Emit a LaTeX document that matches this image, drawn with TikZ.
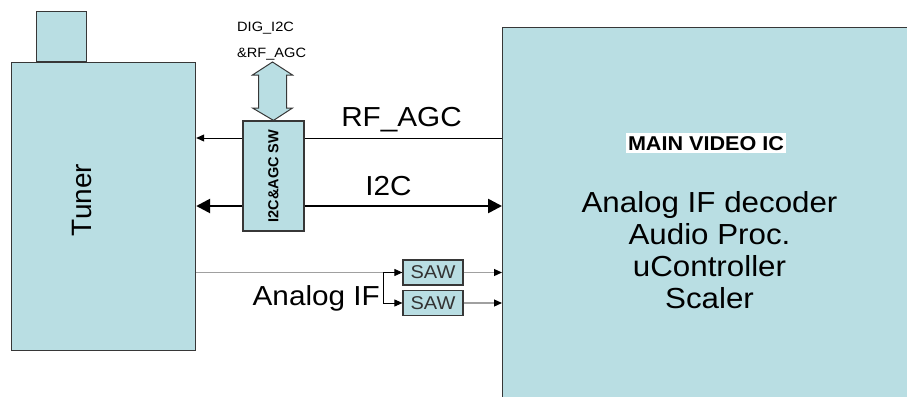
\documentclass[tikz,border=0pt]{standalone}
\usepackage{fontspec}
\setmainfont[FakeStretch=1.08]{Liberation Sans}
\newfontfamily\upfont{Liberation Sans}
\usetikzlibrary{positioning,arrows.meta}
\definecolor{boxblue}{RGB}{185,222,227}
\definecolor{edgegray}{RGB}{55,55,55}
\definecolor{ifgray}{RGB}{160,160,160}

\tikzset{
  blk/.style={draw=edgegray, fill=boxblue, line width=1.2pt, inner sep=0pt},
  sawbox/.style={blk, minimum width=60pt, minimum height=25pt, text=black!80,
    font=\fontsize{18.5}{20}\selectfont},
  biglbl/.style={font=\fontsize{27.5}{30}\selectfont, inner sep=0pt},
  smalllbl/.style={font=\fontsize{13.5}{15}\selectfont, inner sep=0pt, anchor=base west},
  ifline/.style={draw=ifgray, line width=1.2pt},
  iftip/.style={-{Triangle[length=8pt,width=7pt,color=black]}}
}

\begin{document}
\begin{tikzpicture}[x=1pt, y=-1pt]
\useasboundingbox (0,0) rectangle (907,396);
\clip (0,0) rectangle (907,396);

% blocks
\node[blk, minimum width=50pt, minimum height=50pt, anchor=south west] (ant) at (36,62) {};
\node[blk, minimum width=184pt, minimum height=288pt, anchor=north west] (tuner) at (11,62) {};
\node[blk, minimum width=61pt, minimum height=110pt] (sw) at (273.5,176) {};
\node[blk, minimum width=420pt, minimum height=384pt, anchor=north west] (ic) at (502,27) {};
\node[sawbox] (saw1) at (433,272.5) {SAW};
\node[sawbox] (saw2) at (433,303) {SAW};

% texts
\node[rotate=90, inner sep=0pt, font=\upfont\fontsize{28}{30}\selectfont] (tunerlbl) at (82.5,200) {Tuner};
\node[rotate=90, inner sep=0pt, font=\upfont\bfseries\fontsize{14.5}{16}\selectfont] (swlbl) at (sw.center) {I2C\&AGC SW};
\node[fill=white, inner xsep=2pt, inner ysep=3pt, anchor=base, font=\bfseries\fontsize{20}{22}\selectfont] (icname) at (706,150) {MAIN VIDEO IC};
\node[align=center, inner sep=0pt, font=\fontsize{29}{32}\selectfont] (icfunc) at (709.5,250) {Analog IF decoder\\Audio Proc.\\uController\\Scaler};
\node[smalllbl] (diglbl) at (237,32) {DIG\_I2C};
\node[smalllbl] (rfdiglbl) at (237,57) {\&RF\_AGC};
\node[biglbl, anchor=base] (rflbl) at (401.5,126) {RF\_AGC};
\node[biglbl, anchor=base] (i2clbl) at (388.5,195) {I2C};
\node[biglbl, anchor=base east] (iflbl) at (380,305) {Analog IF};

% fat double arrow onto the switch
\draw[draw=edgegray, fill=boxblue, line width=1pt, line join=miter]
  (272.5,62) -- (292.5,75) -- (286.5,75) -- (286.5,108) -- (292.5,108) -- (sw.north)
  -- (252.5,108) -- (258.5,108) -- (258.5,75) -- (252.5,75) -- cycle;

% RF_AGC
\coordinate (rf) at (0,138);
\draw[line width=0.9pt] (rf -| ic.west) -- (rf -| sw.east);
\draw[line width=0.9pt, -{Triangle[length=8pt,width=7pt]}] (rf -| sw.west) -- (rf -| tuner.east);

% I2C
\coordinate (i2c) at (0,206);
\draw[line width=2.6pt, -{Triangle[length=14pt,width=14pt]}] (i2c -| sw.east) -- (i2c -| ic.west);
\draw[line width=2.6pt, -{Triangle[length=14pt,width=14pt]}] (i2c -| sw.west) -- (i2c -| tuner.east);

% Analog IF
\coordinate (split) at (383,272.5);
\draw[ifline] (split -| tuner.east) -- (split);
\draw[line width=0.9pt, iftip] (split) -- (saw1.west);
\draw[line width=0.9pt, iftip] (split) |- (saw2.west);
\draw[ifline, iftip] (saw1.east) -- (saw1 -| ic.west);
\draw[ifline, iftip] (saw2.east) -- (saw2 -| ic.west);

\end{tikzpicture}
\end{document}
